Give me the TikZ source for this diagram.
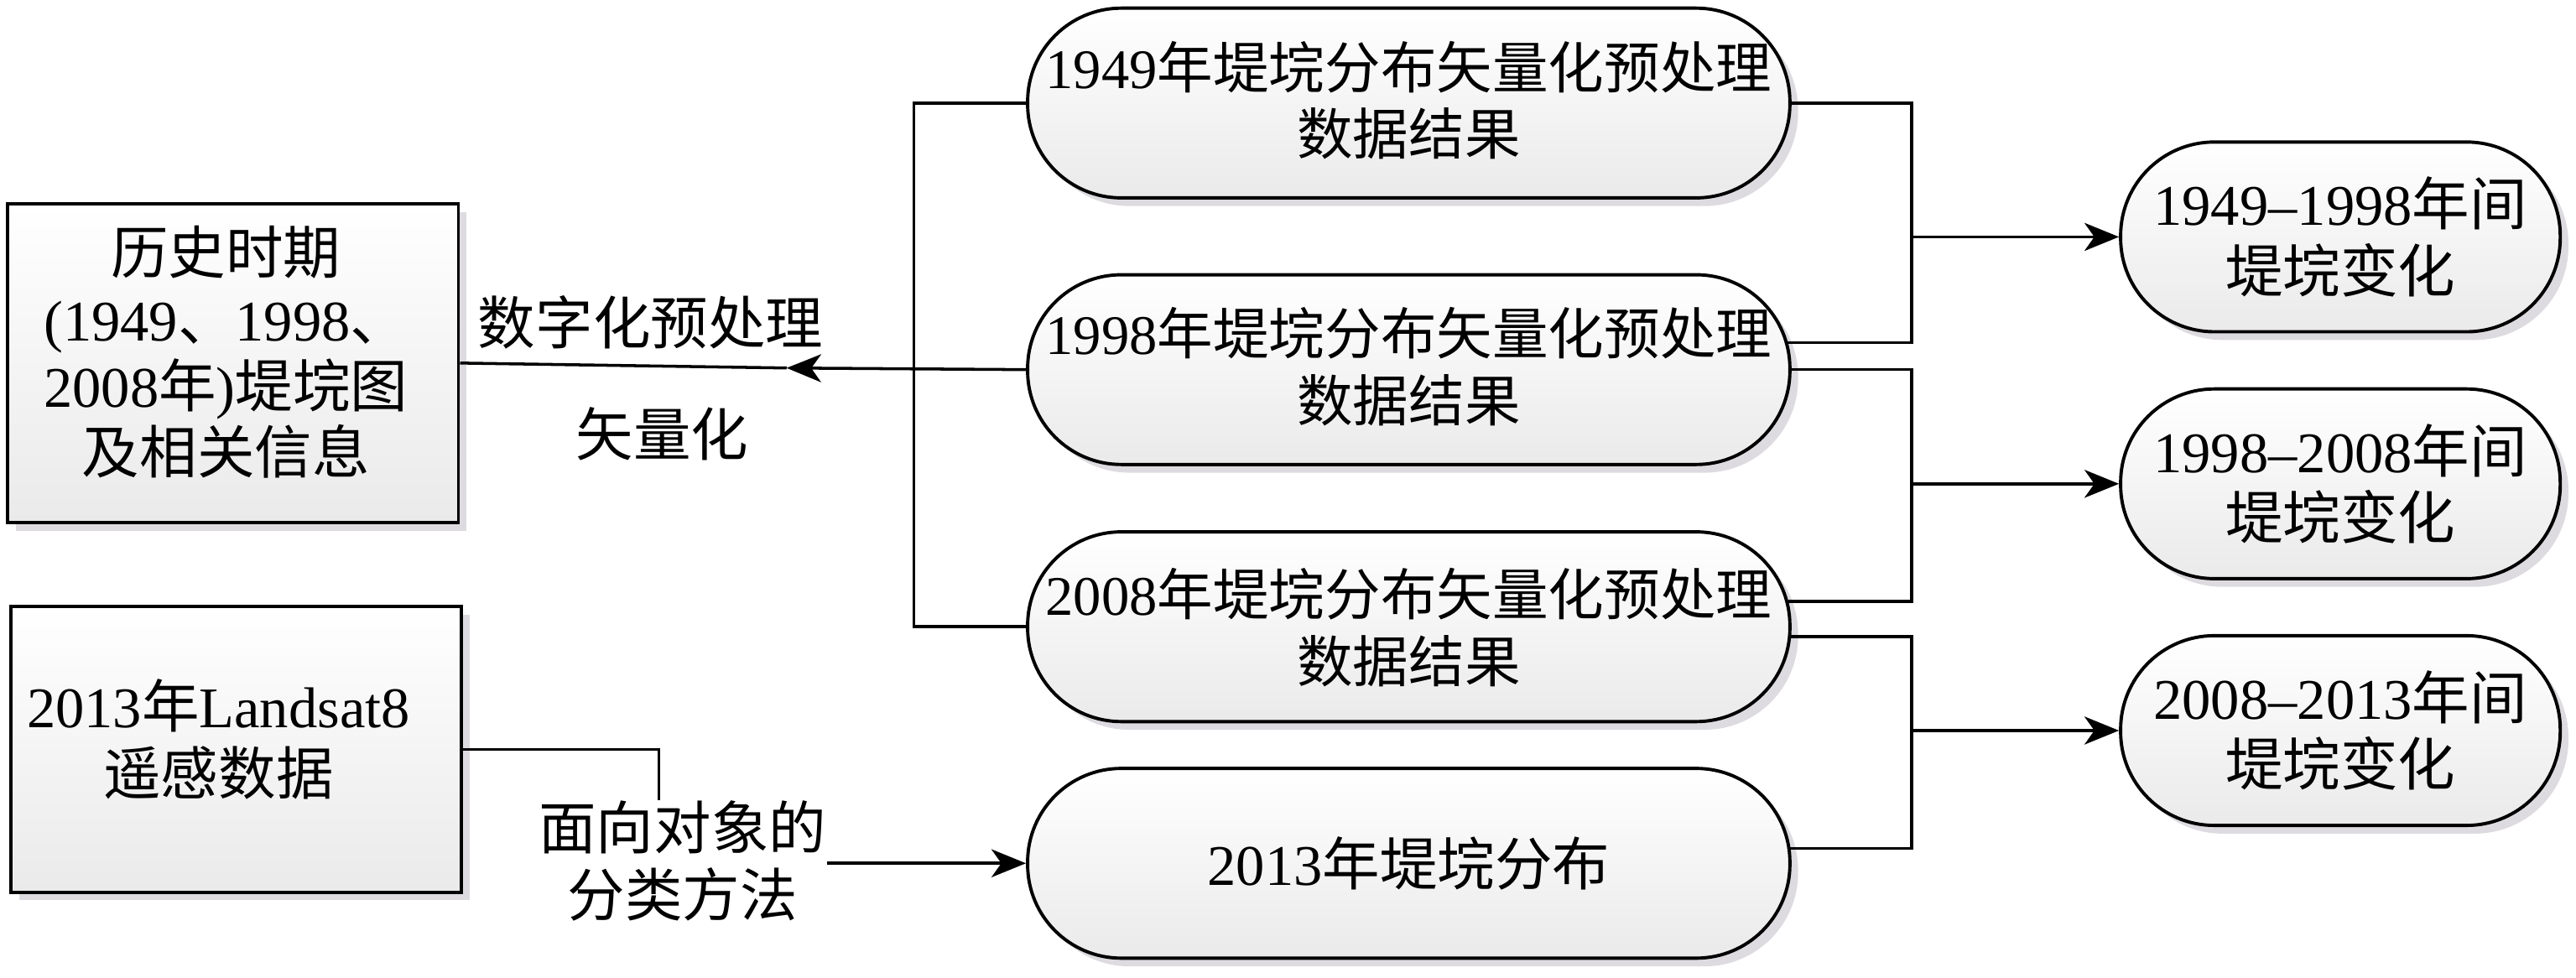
\documentclass[tikz,border=0pt]{standalone}
\usepackage{fontspec}
\setmainfont{Liberation Serif}
\newfontfamily\cjkfont{Noto Sans CJK SC}
\newcommand\zhtxt[1]{{\cjkfont #1}}
\newcommand\lowertxt[2]{\raisebox{-#1}[\height][\depth]{\begin{tabular}{@{}c@{}}#2\end{tabular}}}
\usetikzlibrary{shadows,arrows.meta,calc}
\definecolor{shadowgray}{RGB}{221,219,224}
\definecolor{fillbottom}{RGB}{234,234,234}
\begin{document}
\begin{tikzpicture}[x=1pt,y=-1pt,
  font=\fontsize{35}{40.5}\selectfont,
  conn/.style={line width=1.8pt,black},
  arr/.style={conn,-{Stealth[length=21pt,width=17pt,inset=6pt]}},
  basefill/.style={draw=black,line width=2pt,top color=white,bottom color=fillbottom,
     drop shadow={shadow xshift=5pt,shadow yshift=-5pt,fill=shadowgray,opacity=1}},
  pill/.style={basefill,rectangle,rounded corners=57pt,minimum height=115.5pt,inner sep=0pt,align=center},
  midpill/.style={pill,minimum width=464pt,font=\fontsize{34}{40.5}\selectfont},
  rightpill/.style={pill,minimum width=267.6pt},
  srcbox/.style={basefill,rectangle,inner sep=0pt,align=center,minimum width=274.3pt},
  lbl/.style={inner sep=0pt,align=center}
]
\useasboundingbox (0,0) rectangle (1568,595);

% source boxes (frames) and their texts
\node[srcbox,minimum height=194pt] (A) at (141.9,221) {};
\node[lbl] (Atxt) at (137.5,214.5)
  {\zhtxt{历史时期}\\(1949\zhtxt{、}1998\zhtxt{、}\\2008\zhtxt{年})\zhtxt{堤垸图}\\\zhtxt{及相关信息}};
\node[srcbox,minimum height=173.7pt] (B) at (143.7,456.2) {};
\node[lbl] (Btxt) at (133,450)
  {2013\zhtxt{年}Landsat8\\\zhtxt{遥感数据}};

% middle pills
\node[midpill] (m49) at (857.5,62.7) {\lowertxt{3pt}{1949\zhtxt{年堤垸分布矢量化预处理}\\\zhtxt{数据结果}}};
\node[midpill] (m98) at (857.5,225) {\lowertxt{3pt}{1998\zhtxt{年堤垸分布矢量化预处理}\\\zhtxt{数据结果}}};
\node[midpill] (m08) at (857.5,381.5) {\lowertxt{5pt}{2008\zhtxt{年堤垸分布矢量化预处理}\\\zhtxt{数据结果}}};
\node[midpill,font=\fontsize{35}{40.5}\selectfont] (m13) at (857.5,525.5) {2013\zhtxt{年堤垸分布}};

% right pills
\node[rightpill] (r1) at (1424.6,144.2) {1949–1998\zhtxt{年间}\\\zhtxt{堤垸变化}};
\node[rightpill] (r2) at (1424.6,294.5) {1998–2008\zhtxt{年间}\\\zhtxt{堤垸变化}};
\node[rightpill] (r3) at (1424.6,444.7) {2008–2013\zhtxt{年间}\\\zhtxt{堤垸变化}};

% labels
\node[lbl] (l1) at (396,196) {\zhtxt{数字化预处理}};
\node[lbl] (l2) at (403,264) {\zhtxt{矢量化}};
\node[lbl] (l3) at (415.5,524) {\zhtxt{面向对象的}\\\zhtxt{分类方法}};

% helper coordinates
\coordinate (lx) at (556.2,0);
\coordinate (rx) at (1163.6,0);
\coordinate (bx) at (401,0);
\coordinate (tip) at (478.8,224);
\coordinate (m98u) at ([xshift=-2.4pt,yshift=16.5pt]m98.east);
\coordinate (m08u) at ([xshift=-2.2pt,yshift=15.5pt]m08.east);
\coordinate (m08d) at ([xshift=-0.4pt,yshift=-6pt]m08.east);
\coordinate (m13u) at ([xshift=-0.7pt,yshift=9pt]m13.east);

% left side
\draw[conn] (m49.west) -- (m49.west -| lx) -- (m08.west -| lx) -- (m08.west);
\draw[arr] (m98.west) -- (tip);
\draw[conn] (tip) -- (A.east);
\draw[conn] (B.east) -- (B.east -| bx) -- (l3.north -| bx);
\draw[arr] (l3.east |- m13.west) -- (m13.west);

% right side
\draw[conn] (m49.east) -- (m49.east -| rx) -- (m98u -| rx) -- (m98u);
\draw[arr] (r1.west -| rx) -- (r1.west);
\draw[conn] (m98.east) -- (m98.east -| rx) -- (m08u -| rx) -- (m08u);
\draw[arr] (r2.west -| rx) -- (r2.west);
\draw[conn] (m08d) -- (m08d -| rx) -- (m13u -| rx) -- (m13u);
\draw[arr] (r3.west -| rx) -- (r3.west);
\end{tikzpicture}
\end{document}
